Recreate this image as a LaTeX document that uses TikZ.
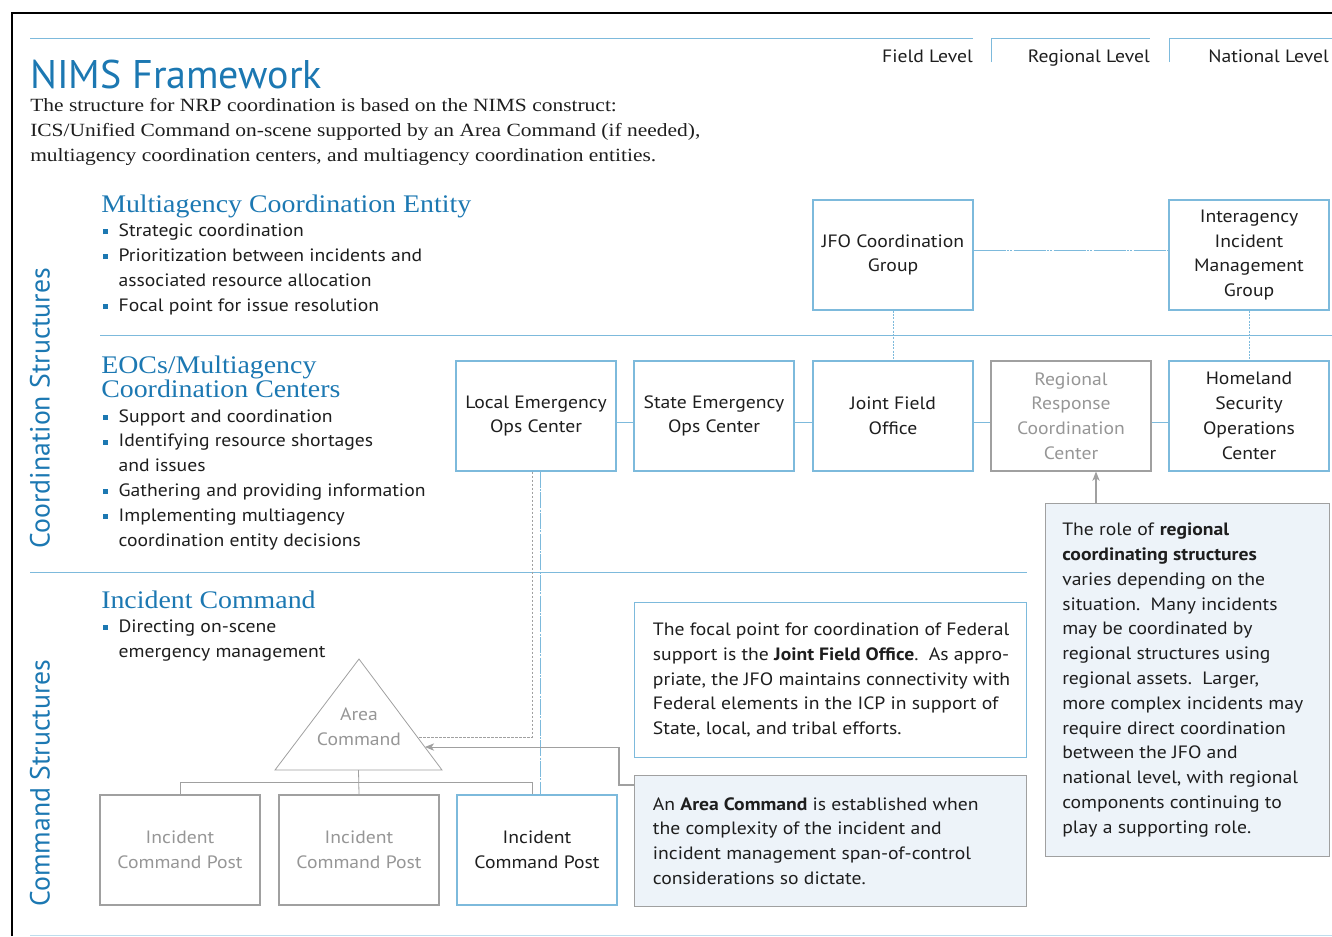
\documentclass[tikz,border=0pt]{standalone}
\usepackage{fontspec}
\setmainfont{Liberation Serif}
\setsansfont{PT Sans}
\newfontfamily\headserif[FakeStretch=1.1]{Liberation Serif}
\newfontfamily\introserif[FakeStretch=1.15]{Liberation Serif}
\newfontfamily\nimssans[FakeStretch=1.1]{PT Sans}
\usepackage{xcolor}
\usetikzlibrary{calc}
\usetikzlibrary{arrows.meta}

\definecolor{nimsblue}{RGB}{28,120,178}
\definecolor{lineblue}{RGB}{125,186,220}
\definecolor{greyline}{RGB}{160,160,160}
\definecolor{greytext}{RGB}{150,150,150}
\definecolor{notefill}{RGB}{237,243,249}
\definecolor{bodytext}{RGB}{30,30,30}

\newcommand\bodyfont{\nimssans\fontsize{13.4}{18.6}\selectfont}
\newcommand\bul{\makebox[11.5pt][l]{\textcolor{nimsblue}{\rule[0.25ex]{3.8pt}{3.8pt}}}}
\newcommand\ind{\hspace*{11.5pt}}

\tikzset{
  orgbox/.style={draw=lineblue, line width=0.8pt, minimum width=120pt, minimum height=82.5pt,
    align=center, font=\bodyfont, text=bodytext, inner sep=0pt},
  greybox/.style={orgbox, draw=greyline, text=greytext},
  link/.style={draw=lineblue, line width=0.6pt},
  linkdash/.style={link, dash pattern=on 1.5pt off 1pt},
  treeline/.style={draw=greyline, line width=0.6pt},
  treedash/.style={treeline, dash pattern=on 2pt off 1pt},
  pointer/.style={treeline, line width=0.8pt, -{Stealth[length=7pt, width=5.5pt, inset=2pt]}},
  notebox/.style={line width=0.8pt, anchor=north west, inner sep=0pt},
  note/.style={anchor=west, align=left, font=\bodyfont, text=bodytext, inner sep=0pt},
  heading/.style={anchor=base west, font=\headserif\fontsize{19}{18}\selectfont, text=nimsblue, inner sep=0pt},
  bullets/.style={anchor=base west, align=left, font=\bodyfont, text=bodytext, inner sep=0pt},
  level/.style={anchor=base east, font=\bodyfont, text=bodytext, inner sep=0pt},
  side/.style={rotate=90, font=\sffamily\fontsize{20.8}{20.8}\selectfont, text=nimsblue, inner sep=0pt},
}

\begin{document}
\begin{tikzpicture}[x=0.75pt,y=-0.75pt]
    \useasboundingbox (0,0) rectangle (1332,936);

    % frame and rules
    \draw[line width=1.5pt] (12,936) -- (12,13) -- (1332,13);
    \draw[link] (30,38) -- (973,38);
    \draw[link] (991,62) -- (991,38) -- (1150,38);
    \draw[link] (1169,62) -- (1169,38) -- (1332,38);
    \draw[link] (100,335) -- (1332,335);
    \draw[link] (30,572) -- (1027,572);
    \draw[link, draw=lineblue!50] (30,935) -- (1332,935);

    % levels
    \node[level] (field) at (973,62) {Field Level};
    \node[level] (regional) at (1150,62) {Regional Level};
    \node[level] (national) at (1329,62) {National Level};

    % title
    \node[anchor=base west, inner sep=0pt, font=\sffamily\fontsize{30}{30}\selectfont, text=nimsblue]
      (title) at (30,88) {NIMS Framework};
    \node[anchor=base west, inner sep=0pt, align=left, text=bodytext,
      font=\introserif\fontsize{14}{18.75}\selectfont] (intro) at (30,161)
      {The structure for NRP coordination is based on the NIMS construct:\\
       ICS/Unified Command on-scene supported by an Area Command (if needed),\\
       multiagency coordination centers, and multiagency coordination entities.};

    % side labels
    \node[side] (coordside) at (40,408) {Coordination Structures};
    \node[side] (commandside) at (40,783) {Command Structures};

    % sections
    \node[heading] (mce) at (101,212) {Multiagency Coordination Entity};
    \node[bullets] (mcelist) at (103,311)
      {\bul Strategic coordination\\
       \bul Prioritization between incidents and\\
       \ind associated resource allocation\\
       \bul Focal point for issue resolution};

    \node[heading, align=left] (eoc) at (101,397)
      {EOCs/Multiagency\\[-0.6pt]Coordination Centers};
    \node[bullets] (eoclist) at (103,546)
      {\bul Support and coordination\\
       \bul Identifying resource shortages\\
       \ind and issues\\
       \bul Gathering and providing information\\
       \bul Implementing multiagency\\
       \ind coordination entity decisions};

    \node[heading] (ic) at (101,608) {Incident Command};
    \node[bullets] (iclist) at (103,657)
      {\bul Directing on-scene\\
       \ind emergency management};

    % coordination boxes
    \node[orgbox] (jfocg) at (893,255) {JFO Coordination\\Group};
    \node[orgbox] (iimg) at (1249,255) {Interagency\\Incident\\Management\\Group};
    \node[orgbox] (lemoc) at (536,416) {Local Emergency\\Ops Center};
    \node[orgbox] (semoc) at (714,416) {State Emergency\\Ops Center};
    \node[orgbox] (jfo) at (893,416) {Joint Field\\Office};
    \node[greybox] (rrcc) at (1071,416) {Regional\\Response\\Coordination\\Center};
    \node[orgbox] (hsoc) at (1249,416) {Homeland\\Security\\Operations\\Center};

    \draw[link, dash pattern=on 24pt off 1pt on 1.5pt off 1pt on 1.5pt off 1pt]
      ([yshift=3.75pt]jfocg.east) -- ([yshift=3.75pt]iimg.west);
    \draw[linkdash] (jfocg) -- (jfo);
    \draw[linkdash] (iimg) -- (hsoc);
    \draw[link] ([yshift=-5pt]lemoc.east) -- ([yshift=-5pt]semoc.west);
    \draw[link] ([yshift=-5pt]semoc.east) -- ([yshift=-5pt]jfo.west);
    \draw[link] ([yshift=-5pt]jfo.east) -- ([yshift=-5pt]rrcc.west);
    \draw[link] ([yshift=-5pt]rrcc.east) -- ([yshift=-5pt]hsoc.west);

    % area command
    \coordinate (acapex) at (359,659);
    \coordinate (acleft) at (275,770);
    \coordinate (acright) at (442,770);
    \coordinate (acbase) at ($(acleft)!0.5!(acright)$);
    \coordinate (acin) at ($(acapex)!0.703!(acright)$);
    \coordinate (acarrow) at ($(acapex)!0.793!(acright)$);
    \draw[treeline] (acapex) -- (acleft) -- (acright) -- cycle;
    \node[align=center, font=\bodyfont, text=greytext] (area) at (359,727) {Area\\Command};

    % command posts
    \node[greybox] (icpa) at (180,850) {Incident\\Command Post};
    \node[greybox] (icpb) at (359,850) {Incident\\Command Post};
    \node[orgbox] (icpc) at (537,850) {Incident\\Command Post};

    \draw[treeline] (acbase) -- (icpb.north);
    \draw[treeline] (icpa.north) -- ++(0,-12) -| ([xshift=-3.5pt]icpc.north);
    \draw[treedash] ([xshift=-3pt]lemoc.south) |- (acin);
    \draw[link, dash pattern=on 12pt off 1pt on 1.5pt off 1pt] ([xshift=3pt]lemoc.south) -- ([xshift=2.25pt]icpc.north);

    % notes
    \node[notebox, draw=lineblue, fill=white, minimum width=294pt, minimum height=116.25pt] (notejfo) at (634,602) {};
    \node[note] (notejfotext) at ([xshift=14pt]notejfo.west)
      {The focal point for coordination of Federal\\
       support is the \textbf{Joint Field Office}.\ \ As appro-\\
       priate, the JFO maintains connectivity with\\
       Federal elements in the ICP in support of\\
       State, local, and tribal efforts.};
    \node[notebox, draw=greyline, fill=notefill, minimum width=294pt, minimum height=98.25pt] (notearea) at (634,775) {};
    \node[note] (noteareatext) at ([xshift=14pt]notearea.west)
      {An \textbf{Area Command} is established when\\
       the complexity of the incident and\\
       incident management span-of-control\\
       considerations so dictate.};
    \node[notebox, draw=greyline, fill=notefill, minimum width=213pt, minimum height=264.75pt] (noteregion) at (1045,503) {};
    \node[note] (noteregiontext) at ([xshift=12.75pt]noteregion.west)
      {The role of \textbf{regional}\\
       \textbf{coordinating structures}\\
       varies depending on the\\
       situation.\ \ Many incidents\\
       may be coordinated by\\
       regional structures using\\
       regional assets.\ \ Larger,\\
       more complex incidents may\\
       require direct coordination\\
       between the JFO and\\
       national level, with regional\\
       components continuing to\\
       play a supporting role.};

    \draw[pointer] ([yshift=-7.5pt]notearea.north west) -- ++(-15,0) |- (acarrow);
    \draw[pointer] ([xshift=18.75pt]rrcc.south |- noteregion.north) -- ([xshift=18.75pt]rrcc.south);
\end{tikzpicture}
\end{document}
